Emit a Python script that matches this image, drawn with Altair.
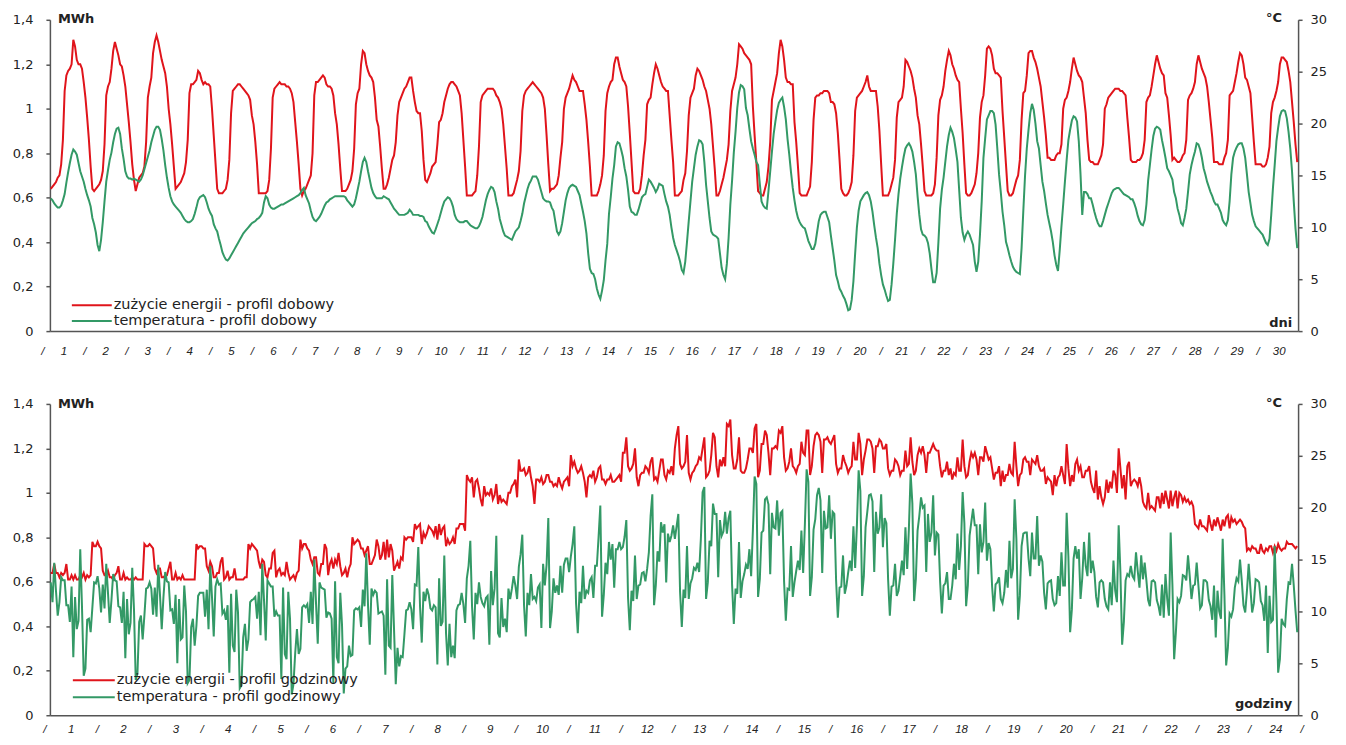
import altair as alt
import pandas as pd

# ---------------- data ----------------
DNI = list(range(1, 31))        # days of month
GODZINY = list(range(1, 25))    # hours of day

# energy use, MWh, one row per day, 24 hourly values
ENERGIA_MWH = [
    [0.64,0.65,0.66,0.67,0.69,0.70,0.75,0.86,1.08,1.15,1.17,1.18,1.20,1.31,1.28,1.22,1.20,1.20,1.18,1.12,1.05,0.96,0.86,0.74],
    [0.64,0.63,0.64,0.65,0.66,0.68,0.72,0.84,1.06,1.10,1.12,1.18,1.26,1.30,1.27,1.24,1.20,1.19,1.15,1.10,1.02,0.94,0.85,0.75],
    [0.68,0.63,0.66,0.69,0.70,0.71,0.74,0.85,1.05,1.10,1.14,1.25,1.30,1.33,1.30,1.26,1.22,1.19,1.16,1.10,1.00,0.93,0.84,0.74],
    [0.64,0.65,0.66,0.67,0.69,0.71,0.76,0.86,1.07,1.11,1.11,1.12,1.13,1.17,1.16,1.13,1.11,1.12,1.11,1.11,1.10,1.00,0.88,0.76],
    [0.64,0.62,0.62,0.62,0.63,0.64,0.68,0.77,0.98,1.08,1.09,1.10,1.11,1.11,1.10,1.09,1.08,1.07,1.06,1.04,0.97,0.93,0.85,0.75],
    [0.62,0.62,0.62,0.62,0.62,0.63,0.68,0.82,1.05,1.09,1.10,1.11,1.12,1.11,1.11,1.11,1.10,1.10,1.09,1.07,1.03,0.94,0.85,0.75],
    [0.64,0.61,0.63,0.64,0.66,0.68,0.70,0.80,1.06,1.12,1.12,1.13,1.14,1.15,1.14,1.11,1.10,1.10,1.09,1.06,0.98,0.93,0.84,0.73],
    [0.63,0.63,0.63,0.64,0.66,0.68,0.72,0.82,1.02,1.07,1.09,1.20,1.26,1.25,1.20,1.17,1.15,1.14,1.12,1.05,0.95,0.92,0.83,0.73],
    [0.64,0.64,0.66,0.69,0.73,0.77,0.79,0.85,0.97,1.03,1.05,1.07,1.09,1.10,1.12,1.14,1.14,1.08,1.03,0.99,0.98,0.98,0.90,0.77],
    [0.68,0.67,0.69,0.71,0.74,0.75,0.76,0.84,0.94,0.95,0.98,1.03,1.06,1.09,1.11,1.12,1.12,1.11,1.10,1.08,1.06,0.98,0.86,0.74],
    [0.61,0.61,0.61,0.61,0.62,0.63,0.70,0.83,1.03,1.06,1.07,1.08,1.09,1.09,1.09,1.09,1.08,1.06,1.05,1.03,1.00,0.93,0.83,0.73],
    [0.61,0.61,0.61,0.62,0.65,0.68,0.72,0.81,0.99,1.06,1.08,1.09,1.10,1.11,1.12,1.11,1.10,1.09,1.08,1.07,1.05,1.00,0.88,0.75],
    [0.63,0.64,0.64,0.65,0.66,0.70,0.78,0.85,1.00,1.05,1.07,1.09,1.12,1.15,1.13,1.12,1.10,1.08,1.08,1.08,1.02,0.95,0.85,0.74],
    [0.61,0.61,0.61,0.61,0.63,0.66,0.70,0.79,0.99,1.07,1.10,1.12,1.13,1.20,1.23,1.23,1.19,1.16,1.13,1.12,1.10,1.01,0.89,0.76],
    [0.63,0.62,0.62,0.62,0.64,0.70,0.79,0.86,1.02,1.04,1.05,1.11,1.16,1.20,1.18,1.15,1.12,1.10,1.09,1.08,1.08,0.97,0.86,0.76],
    [0.61,0.61,0.61,0.62,0.63,0.68,0.71,0.81,0.97,1.05,1.07,1.09,1.15,1.18,1.17,1.15,1.13,1.10,1.08,1.04,1.00,0.93,0.83,0.73],
    [0.61,0.61,0.63,0.66,0.69,0.73,0.77,0.84,0.99,1.08,1.11,1.14,1.20,1.29,1.28,1.27,1.25,1.24,1.23,1.22,1.20,1.01,0.88,0.76],
    [0.63,0.62,0.61,0.61,0.64,0.67,0.74,0.85,1.04,1.08,1.12,1.16,1.25,1.31,1.28,1.22,1.14,1.12,1.12,1.11,1.11,0.94,0.85,0.74],
    [0.62,0.61,0.61,0.61,0.61,0.63,0.65,0.76,0.95,1.05,1.06,1.06,1.07,1.07,1.08,1.08,1.08,1.07,1.03,1.03,1.02,0.98,0.89,0.77],
    [0.64,0.62,0.61,0.61,0.62,0.64,0.67,0.79,0.99,1.05,1.06,1.07,1.08,1.10,1.12,1.15,1.10,1.08,1.08,1.08,1.08,1.01,0.90,0.75],
    [0.61,0.61,0.61,0.61,0.63,0.66,0.69,0.77,0.96,1.03,1.04,1.05,1.10,1.22,1.21,1.19,1.17,1.14,1.09,1.05,0.97,0.93,0.84,0.74],
    [0.63,0.61,0.61,0.61,0.61,0.62,0.66,0.78,0.97,1.04,1.06,1.10,1.17,1.22,1.26,1.24,1.20,1.18,1.15,1.13,1.12,1.00,0.89,0.75],
    [0.62,0.61,0.61,0.62,0.64,0.66,0.71,0.80,0.96,1.03,1.06,1.15,1.27,1.28,1.27,1.24,1.18,1.16,1.16,1.15,1.14,0.99,0.87,0.75],
    [0.63,0.61,0.61,0.62,0.65,0.68,0.70,0.77,0.95,1.07,1.08,1.15,1.25,1.26,1.26,1.23,1.21,1.18,1.14,1.10,1.03,0.96,0.88,0.78],
    [0.78,0.77,0.77,0.77,0.79,0.80,0.80,0.84,1.00,1.04,1.05,1.08,1.12,1.18,1.23,1.20,1.17,1.15,1.14,1.12,1.05,0.98,0.86,0.77],
    [0.76,0.76,0.75,0.75,0.75,0.77,0.79,0.84,1.00,1.02,1.05,1.06,1.07,1.08,1.09,1.09,1.09,1.08,1.08,1.07,1.06,0.96,0.87,0.77],
    [0.76,0.76,0.76,0.77,0.77,0.78,0.80,0.86,1.03,1.05,1.06,1.10,1.15,1.20,1.24,1.21,1.18,1.16,1.15,1.07,1.05,0.97,0.88,0.77],
    [0.78,0.77,0.76,0.76,0.77,0.79,0.80,0.86,1.04,1.06,1.07,1.09,1.12,1.20,1.24,1.21,1.18,1.16,1.14,1.10,1.03,0.95,0.87,0.76],
    [0.76,0.76,0.75,0.75,0.75,0.78,0.80,0.86,1.06,1.07,1.08,1.12,1.16,1.21,1.25,1.24,1.20,1.14,1.13,1.10,1.07,0.96,0.85,0.75],
    [0.75,0.75,0.75,0.74,0.74,0.75,0.78,0.83,0.98,1.03,1.05,1.08,1.12,1.20,1.23,1.23,1.22,1.21,1.17,1.12,1.03,0.94,0.84,0.76],
]

# temperature, degrees C, one row per day, 24 hourly values
TEMPERATURA_C = [
    [12.8,12.6,12.3,12.1,11.9,11.9,12.1,12.6,13.2,14.3,15.3,16.2,17.0,17.5,17.3,17.0,16.2,15.4,14.9,14.4,13.7,13.1,12.6,12.0],
    [10.9,10.3,9.5,8.3,7.7,8.8,10.5,12.5,14.4,15.5,16.5,17.2,18.2,19.0,19.5,19.6,19.0,17.6,16.6,15.4,14.9,14.7,14.7,14.6],
    [14.7,14.6,14.5,14.4,14.6,15.0,15.6,16.2,16.8,17.4,18.2,18.8,19.4,19.7,19.7,19.4,18.5,17.4,16.0,14.8,13.8,13.0,12.5,12.2],
    [12.0,11.8,11.6,11.4,11.1,10.8,10.6,10.5,10.5,10.6,10.8,11.3,11.9,12.6,12.9,13.0,13.1,12.9,12.4,11.8,11.4,11.1,10.3,9.9],
    [9.6,8.9,8.3,7.6,7.2,6.9,6.8,7.0,7.3,7.6,7.9,8.2,8.5,8.8,9.1,9.4,9.6,9.8,10.0,10.2,10.4,10.5,10.6,10.8],
    [10.9,11.1,11.4,12.4,13.0,12.8,12.2,11.9,11.8,11.8,11.9,12.0,12.1,12.2,12.2,12.3,12.4,12.5,12.6,12.7,12.8,12.9,13.0,13.1],
    [13.3,13.6,13.8,13.1,12.7,12.3,11.6,11.0,10.7,10.6,10.8,11.0,11.3,11.7,12.1,12.4,12.5,12.7,12.8,12.9,13.0,13.0,13.0,13.0],
    [13.0,13.0,12.9,12.6,12.4,12.2,12.0,12.2,12.8,13.6,14.4,15.4,16.3,16.7,16.3,15.4,14.6,13.8,13.3,13.0,12.8,12.8,12.8,12.8],
    [13.0,12.9,12.8,12.7,12.4,12.1,11.8,11.6,11.4,11.2,11.2,11.2,11.2,11.3,11.4,11.7,11.5,11.2,11.2,11.2,11.2,11.1,11.1,11.0],
    [10.6,10.5,10.1,9.8,9.5,9.4,9.8,10.3,10.8,11.4,12.0,12.5,12.7,12.9,12.8,12.5,12.0,11.2,10.8,10.6,10.5,10.5,10.5,10.6],
    [10.6,10.4,10.2,10.1,10.0,9.9,9.9,10.1,10.5,11.0,11.8,12.6,13.2,13.6,13.9,13.8,13.4,12.5,11.8,10.8,10.2,9.6,9.2,9.1],
    [9.0,8.9,8.8,9.2,9.6,9.8,10.0,10.6,11.3,12.3,13.0,13.7,14.2,14.5,14.9,14.9,14.9,14.6,14.0,13.4,12.8,12.6,12.5,12.5],
    [12.4,11.9,11.6,10.6,9.6,9.3,9.6,10.4,11.5,12.6,13.3,13.8,14.0,14.1,14.0,13.9,13.5,13.1,12.3,11.5,10.6,9.4,7.5,6.0],
    [5.6,5.5,5.0,4.1,3.5,3.1,3.9,4.9,6.8,8.4,11.3,12.9,14.7,16.0,17.8,18.2,18.1,17.5,16.8,15.7,14.9,13.6,12.0,11.5],
    [11.4,11.2,11.2,11.7,12.3,12.9,13.1,13.2,13.9,14.6,14.4,14.1,13.8,13.4,13.7,14.2,14.1,14.0,13.2,12.5,12.0,11.2,10.0,9.0],
    [8.3,7.8,7.3,6.7,5.9,5.6,6.7,8.6,10.6,12.5,14.4,15.7,17.0,17.8,18.4,18.3,18.0,16.3,14.1,12.5,10.9,9.6,9.3,9.2],
    [9.1,8.9,7.5,6.1,5.4,5.0,6.5,9.0,12.2,14.5,17.2,19.2,21.5,23.0,23.7,23.6,23.3,21.5,20.8,19.5,18.3,17.6,17.0,16.3],
    [16.0,14.2,12.5,12.1,11.9,11.8,13.5,15.4,17.3,19.0,20.2,21.3,22.0,22.3,22.5,21.6,20.4,18.5,17.0,15.3,13.8,12.6,11.6,10.9],
    [10.5,10.2,10.0,9.9,9.3,8.7,8.3,7.9,7.9,8.4,9.5,10.6,11.2,11.4,11.5,11.5,11.0,10.5,9.2,8.0,6.8,5.4,4.8,4.1],
    [3.8,3.4,3.1,2.6,2.0,2.1,3.0,4.8,7.5,10.0,11.6,12.5,12.8,13.1,13.3,13.4,13.1,12.5,11.5,10.2,9.0,8.0,6.5,5.4],
    [4.5,4.0,3.4,2.9,3.0,4.5,6.5,8.8,11.3,13.2,14.7,15.8,16.8,17.6,17.9,18.1,17.8,17.3,16.3,15.1,13.0,11.2,9.8,9.3],
    [9.2,9.0,8.5,7.5,6.0,4.7,4.7,5.6,8.5,11.8,13.6,14.8,16.3,17.8,18.9,19.6,19.2,18.6,17.5,16.3,13.6,10.9,9.5,8.8],
    [9.3,9.6,9.3,8.8,8.3,6.7,5.7,6.7,9.3,12.5,16.7,18.6,20.4,20.8,21.2,21.2,21.0,19.9,17.6,15.1,13.4,11.5,10.2,8.6],
    [8.0,7.3,6.7,6.2,5.9,5.7,5.6,5.5,8.0,11.6,15.0,17.6,19.4,21.0,21.9,21.3,20.0,18.3,17.6,16.0,14.4,13.5,12.3,11.2],
    [10.4,9.6,8.6,7.3,6.4,5.8,7.8,10.1,12.2,14.4,16.5,18.4,19.4,20.3,20.7,20.6,20.2,18.3,15.1,11.2,13.4,13.4,13.2,12.8],
    [12.8,12.2,11.5,10.9,10.4,10.1,10.1,10.6,11.2,11.8,12.3,12.8,13.3,13.6,13.7,13.8,13.8,13.6,13.4,13.2,13.1,13.0,12.9,12.7],
    [12.7,12.3,11.8,11.1,10.6,10.3,10.2,10.7,12.2,14.5,16.0,17.5,18.8,19.5,19.7,19.6,19.4,18.4,17.6,16.7,15.7,15.4,15.0,14.6],
    [13.4,12.8,11.8,11.2,10.4,10.2,10.9,11.8,13.4,15.1,16.0,16.7,17.3,18.1,18.0,17.5,16.7,15.7,15.1,14.4,13.9,13.4,13.0,12.5],
    [12.2,12.2,11.8,11.4,10.7,10.4,10.2,10.7,12.5,15.1,16.7,17.3,17.7,18.0,18.1,18.1,17.6,16.7,15.1,13.4,12.3,11.2,10.6,10.1],
    [9.9,9.7,9.5,9.3,8.9,8.5,8.3,8.9,11.2,13.8,16.0,18.3,19.6,20.7,21.2,21.3,21.2,20.5,19.2,17.6,15.4,12.5,9.9,8.0],
]

MWH_TICKS = [0, 0.2, 0.4, 0.6, 0.8, 1.0, 1.2, 1.4]
C_TICKS = [0, 5, 10, 15, 20, 25, 30]

LEGENDA_DOBOWA = ["zużycie energii - profil dobowy", "temperatura - profil dobowy"]
LEGENDA_GODZINOWA = ["zużycie energii - profil godzinowy", "temperatura - profil godzinowy"]
JEDNOSTKI = ["MWh", "°C"]
OS_X = ["dni", "godziny"]

# ---------------- style ----------------
RED = "#e0141b"
GREEN = "#339966"
AXIS = "#555555"
TXT = "#222222"
W, H = 1251, 312

n_d, n_h = len(DNI), len(GODZINY)
N = n_d * n_h
PX = W / N  # pixels per category

rows_top, rows_bot = [], []
for d in range(n_d):
    for h in range(n_h):
        e = ENERGIA_MWH[d][h]
        t = TEMPERATURA_C[d][h]
        rows_top.append({"idx": d * n_h + h, "mwh": e, "temp": t})
        rows_bot.append({"idx": h * n_d + d, "mwh": e, "temp": t})
top_df = pd.DataFrame(rows_top).sort_values("idx")
bot_df = pd.DataFrame(rows_bot).sort_values("idx")


def label_frame(names, start_px, step_px, count):
    # category labels: "/" separators alternating with the names
    out = []
    for j in range(count):
        t = "/" if j % 2 == 0 else str(names[j // 2])
        out.append({"idx": (start_px + j * step_px) / PX - 0.5, "t": t})
    return pd.DataFrame(out)


top_lab = label_frame(DNI, -7, 21.0, 2 * n_d)
bot_lab = label_frame(GODZINY, -5, 26.25, 2 * n_h + 1)


def xenc():
    return alt.X("idx:Q",
                 scale=alt.Scale(domain=[-0.5, N - 0.5], nice=False, zero=False),
                 axis=alt.Axis(title=None, labels=False, ticks=False, grid=False,
                               domainColor=AXIS, domainWidth=1.5))


def panel(df, lab, legend, leg_y, leg_x, lab_y, corner, corner_y, unit_y, anchor):
    red = alt.Chart(df).mark_line(color=RED, strokeWidth=2).encode(
        x=xenc(),
        y=alt.Y("mwh:Q", scale=alt.Scale(domain=[0, 1.4], nice=False),
                axis=alt.Axis(orient="left", values=MWH_TICKS, title=None, grid=False,
                              labelExpr="replace(format(datum.value, '.1~f'), '.', ',')",
                              domainColor=AXIS, domainWidth=1.5, tickColor=AXIS, tickWidth=1.5,
                              tickSize=4, labelFont="DejaVu Sans", labelFontSize=13,
                              labelColor=TXT, labelPadding=13)))
    green = alt.Chart(df).mark_line(color=GREEN, strokeWidth=2).encode(
        x=xenc(),
        y=alt.Y("temp:Q", scale=alt.Scale(domain=[0, 30], nice=False),
                axis=alt.Axis(orient="right", values=C_TICKS, title=None, grid=False,
                              domainColor=AXIS, domainWidth=1.5, tickColor=AXIS, tickWidth=1.5,
                              tickSize=4, labelFont="DejaVu Sans", labelFontSize=13,
                              labelColor=TXT, labelPadding=8)))
    xl = alt.Chart(lab).mark_text(fontStyle="italic", font="Liberation Sans", fontSize=11.5,
                                  color=TXT, baseline="middle", align="center").encode(
        x=xenc(), y=alt.value(lab_y), text="t:N")

    layers = [red, green, xl]
    for i, col in enumerate([RED, GREEN]):
        d = pd.DataFrame({"t": [legend[i]]})
        layers.append(alt.Chart(d).mark_rule(color=col, strokeWidth=2).encode(
            x=alt.value(leg_x[0]), x2=alt.value(leg_x[1]), y=alt.value(leg_y[i])))
        layers.append(alt.Chart(d).mark_text(align="left", baseline="middle", font="DejaVu Sans",
                                             fontSize=14.5, color=TXT).encode(
            x=alt.value(leg_x[2]), y=alt.value(leg_y[i]), text="t:N"))

    bold = dict(font="DejaVu Sans", fontSize=13, fontWeight="bold", color=TXT, baseline="middle")
    layers.append(alt.Chart(pd.DataFrame({"t": [JEDNOSTKI[0]]})).mark_text(align="left", **bold).encode(
        x=alt.value(8), y=alt.value(unit_y), text="t:N"))
    layers.append(alt.Chart(pd.DataFrame({"t": [JEDNOSTKI[1]]})).mark_text(align="right", **bold).encode(
        x=alt.value(1235), y=alt.value(unit_y - 1), text="t:N"))
    layers.append(alt.Chart(pd.DataFrame({"t": [corner]})).mark_text(align="right", **bold).encode(
        x=alt.value(1245), y=alt.value(corner_y), text="t:N"))

    # white anchor fixing the outer bounds of the drawing
    ax, ay = anchor
    layers.append(alt.Chart(pd.DataFrame({"t": ["a"]})).mark_rule(color="white", strokeWidth=1).encode(
        x=alt.value(ax), x2=alt.value(ax + 1), y=alt.value(ay)))

    return alt.layer(*layers).resolve_scale(y="independent").properties(width=W, height=H)


top = panel(top_df, top_lab, LEGENDA_DOBOWA, [286, 302], [22, 62, 64], 333, OS_X[0], 304, -1,
            (-41.5, -10.5))
bot = panel(bot_df, bot_lab, LEGENDA_GODZINOWA, [277, 294], [23, 65, 67], 327, OS_X[1], 301, 0,
            (W + 38.5, H + 19.5))

chart = alt.vconcat(top, bot, spacing=73, bounds="flush").properties(
    padding=0, background="white"
).configure_view(stroke=None)

chart.save("out.html", embed_options={"renderer": "svg", "actions": False})
